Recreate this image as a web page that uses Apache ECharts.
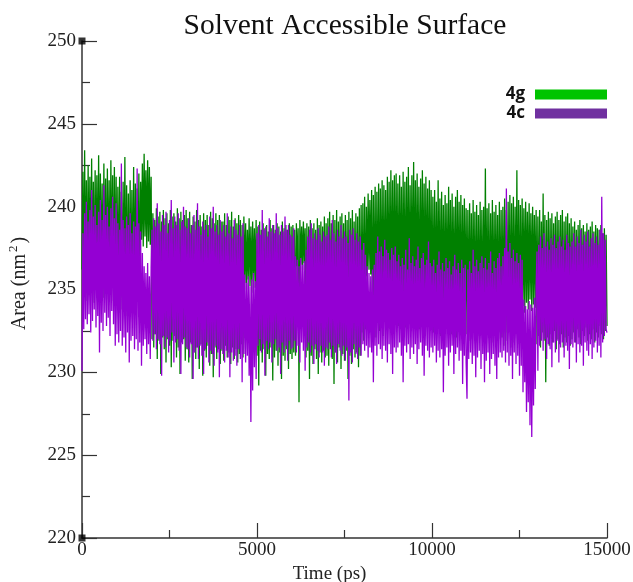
<!DOCTYPE html>
<html>
<head>
<meta charset="utf-8">
<script src="https://cdn.jsdelivr.net/npm/echarts@6/dist/echarts.min.js"></script>
<style>html,body{margin:0;padding:0;background:#fff}#c{width:633px;height:582px}</style>
</head>
<body>
<div id="c"></div>
<script>
const timeStep = 25; // ps between samples
const yTicks = [220, 225, 230, 235, 240, 245, 250];
const xTicks = [0, 5000, 10000, 15000];
const seriesNames = ['4g', '4c'];
const cornerMarks = [[0, 250], [0, 220]];

const area4g = [
236.2,242.1,234.6,243.4,235.1,241.6,234.3,242.5,235.4,241.8,234.8,242.9,235.0,241.5,234.2,242.2,235.6,241.9,234.7,243.1,
234.9,242.0,235.3,241.4,234.5,242.6,235.2,241.7,234.4,242.3,235.0,241.6,234.8,242.8,235.5,241.9,234.3,242.4,234.9,241.8,
234.2,241.2,233.6,241.8,234.5,240.9,233.8,241.5,234.0,243.0,233.4,241.3,234.3,240.8,233.7,241.6,234.1,241.0,233.5,242.4,
234.0,241.4,233.8,241.1,234.4,242.0,233.9,241.5,238.0,242.6,237.6,243.2,238.2,242.2,237.5,242.8,237.9,242.4,237.7,241.8,
232.0,239.6,231.5,239.2,232.3,239.9,230.8,239.4,231.9,239.7,229.9,239.1,232.1,239.8,231.4,239.3,230.6,239.6,232.0,239.0,
231.6,239.8,230.3,239.4,231.9,239.6,232.2,239.1,230.9,239.9,231.5,239.3,229.9,239.7,231.8,239.2,232.0,239.5,230.7,239.8,
231.4,239.3,230.6,239.7,231.8,238.9,229.6,239.4,231.2,239.1,230.8,239.8,231.5,239.2,230.2,239.5,231.7,238.8,229.8,239.6,
231.3,239.2,230.9,239.5,231.6,238.9,230.4,239.7,231.1,239.3,229.7,239.0,231.5,239.6,230.8,239.2,231.4,239.5,230.5,239.1,
231.3,239.1,230.7,239.6,231.6,238.9,230.9,239.4,231.2,239.2,230.5,239.7,231.5,238.8,230.8,239.3,231.4,239.0,230.6,239.5,
231.1,239.2,231.7,238.9,230.9,239.4,235.4,239.0,235.0,238.6,235.6,239.3,235.2,238.8,234.8,239.1,235.5,238.7,235.1,239.2,
231.0,238.8,229.2,239.1,231.3,238.6,230.6,239.0,231.4,238.7,229.8,238.9,231.1,238.5,230.8,239.2,231.5,238.7,229.5,238.9,
230.9,238.6,231.3,239.0,230.4,238.8,231.2,238.5,229.6,239.1,231.0,238.7,230.7,238.9,231.4,238.6,230.2,239.0,231.1,238.8,
230.8,238.9,231.2,238.6,231.0,239.0,236.4,238.7,228.2,239.2,236.5,238.8,236.2,239.1,236.6,238.7,230.9,239.0,231.3,238.8,
229.6,239.2,231.0,238.7,230.5,239.0,231.4,238.6,230.8,239.3,229.9,238.9,231.2,239.1,230.6,238.8,231.3,239.4,230.9,239.0,
231.0,239.3,230.4,239.7,231.4,239.0,230.8,239.5,229.3,239.2,231.2,239.8,230.6,239.1,231.5,239.4,230.2,239.6,231.1,239.0,
230.7,239.5,231.3,239.2,229.6,239.7,231.0,239.3,230.5,239.8,231.4,239.1,230.9,239.6,231.2,239.4,230.3,239.9,231.0,240.1,
232.4,240.2,231.9,240.6,232.6,240.0,235.8,240.8,236.2,240.4,235.9,241.0,232.3,240.7,232.8,241.2,232.1,240.9,233.0,241.4,
232.5,241.1,232.9,241.6,232.2,241.3,233.2,241.0,232.7,241.8,233.4,241.5,232.6,242.2,233.1,241.6,233.6,241.9,232.9,242.0,
233.2,241.4,232.8,241.9,233.6,241.2,233.0,242.1,233.9,241.5,232.7,241.8,233.4,242.4,233.1,241.3,233.7,241.9,232.9,242.7,
233.5,241.6,233.0,242.0,233.8,241.2,232.6,241.7,233.3,242.2,233.6,241.4,232.9,241.8,233.5,241.1,233.2,241.6,232.8,241.0,
232.8,240.6,232.4,241.0,233.1,240.3,232.6,241.6,233.3,240.5,232.2,240.9,233.0,240.1,232.7,240.7,233.4,240.2,232.5,241.2,
232.9,240.4,232.3,240.8,233.2,240.0,232.6,240.6,232.1,241.0,233.0,240.3,232.8,240.7,232.4,240.1,233.1,240.5,232.7,239.9,
232.3,239.8,231.9,240.2,232.6,239.6,232.0,240.4,232.8,239.7,231.8,240.1,232.5,239.5,232.2,240.3,232.7,239.8,232.0,240.0,
232.4,242.3,231.7,239.9,232.6,240.2,232.1,239.6,232.9,240.4,231.8,239.7,232.3,240.1,232.6,239.5,232.0,240.3,232.4,239.8,
232.1,240.0,231.6,240.5,232.4,239.8,231.9,240.3,232.6,240.7,231.5,240.2,232.2,240.6,231.8,240.0,232.5,242.2,231.7,240.4,
232.3,240.1,232.0,240.5,234.0,239.9,233.6,240.3,234.2,239.7,233.8,240.2,234.4,239.6,233.7,240.0,234.1,239.5,233.9,239.8,
231.7,239.4,232.2,239.8,231.5,239.1,232.4,240.8,231.9,239.5,229.4,239.2,232.1,239.7,231.6,239.3,232.3,239.6,231.8,239.0,
232.5,239.4,231.4,239.7,232.0,239.2,231.7,239.5,232.3,239.8,231.5,239.1,232.1,239.4,231.8,239.6,232.2,239.0,231.6,239.3,
232.0,238.8,232.4,239.1,231.8,238.6,232.6,238.9,232.1,239.2,231.7,238.7,232.5,238.9,232.2,238.5,232.7,239.0,231.9,238.6,
232.3,238.8,232.0,239.1,232.6,238.5,231.8,238.9,232.4,238.7,232.1,238.6,232.8,238.9,232.3,238.4,232.0,238.7,232.5,238.3,232.8
];

const area4c = [
230.1,238.4,232.6,239.6,233.2,240.3,232.9,239.1,233.5,239.8,232.4,241.0,233.1,239.4,233.8,240.1,232.7,238.9,233.4,239.7,
231.2,240.4,233.0,239.2,232.5,241.3,233.6,239.5,232.8,240.0,233.3,238.8,232.2,239.9,233.7,240.6,232.9,239.3,231.6,240.2,
232.3,239.0,231.8,238.6,232.5,242.6,231.6,239.2,232.1,238.7,231.2,239.4,232.4,238.9,230.6,239.6,231.9,238.4,232.2,239.1,
231.4,238.8,232.0,242.3,231.3,239.0,231.8,238.5,230.4,237.2,231.6,236.4,232.0,236.0,231.1,236.6,231.7,235.8,230.8,236.3,
238.6,231.9,239.3,232.3,238.8,231.4,240.2,232.0,239.0,231.7,238.5,229.8,239.5,232.2,238.9,231.5,239.7,232.1,238.4,231.2,
239.2,231.9,240.4,232.4,238.7,230.6,239.4,231.8,238.9,232.0,239.6,231.3,238.6,229.9,239.1,231.7,240.0,232.1,238.8,231.5,
238.7,231.4,239.3,230.9,238.4,231.7,238.9,229.6,239.5,231.2,238.6,231.5,240.2,230.8,238.8,231.6,238.3,231.0,239.1,229.9,
238.6,231.4,238.9,231.8,238.2,230.6,239.4,231.3,238.7,231.1,240.0,230.4,238.5,231.6,238.9,231.2,238.3,229.7,239.2,231.4,
238.5,231.1,238.9,230.6,238.2,231.3,239.6,230.9,238.4,229.7,238.8,231.2,238.1,230.7,239.2,231.0,238.6,230.4,238.3,231.4,
238.9,230.8,238.2,229.4,239.0,231.1,235.9,230.6,235.4,231.0,235.8,229.8,235.2,227.0,235.6,228.9,236.0,230.3,235.5,229.6,
238.4,231.6,238.9,232.0,238.3,231.2,239.8,231.7,238.6,229.8,238.8,231.9,238.2,231.4,239.3,231.8,238.5,230.6,238.9,231.7,
238.4,232.0,239.6,231.3,238.7,231.5,238.3,229.9,238.9,231.8,238.5,231.2,239.4,231.6,238.6,230.7,238.9,231.9,238.3,231.4,
238.2,231.5,238.7,231.9,237.0,231.2,236.8,231.6,236.4,230.6,236.9,231.8,236.5,231.3,236.7,230.1,237.4,231.5,238.2,231.8,
238.6,231.2,239.0,231.6,238.1,230.5,238.4,231.7,238.0,231.3,238.7,230.9,238.3,231.6,237.9,231.2,238.5,230.4,238.2,231.5,
238.3,231.4,238.8,231.8,238.0,230.9,239.2,231.6,238.4,231.2,237.9,230.5,238.6,231.7,238.2,231.3,238.9,231.0,238.1,231.6,
238.5,230.7,238.2,231.5,237.8,228.3,238.6,231.2,238.3,230.6,238.7,231.7,238.0,231.1,238.4,230.8,237.9,231.5,238.2,231.0,
237.4,231.7,237.8,231.3,237.1,231.6,236.4,230.9,236.0,231.5,235.8,231.2,236.2,229.4,236.5,231.6,237.2,231.0,238.2,231.7,
237.3,231.4,237.6,230.8,237.0,231.6,238.0,231.3,237.4,230.6,237.2,231.7,236.8,231.1,237.5,229.9,237.1,231.5,237.6,231.2,
236.7,231.5,237.1,231.8,236.4,231.0,236.9,229.4,236.5,231.6,237.4,231.2,236.2,231.7,238.1,230.8,236.6,231.5,237.0,231.1,
236.4,231.7,236.8,230.5,237.6,231.4,236.3,231.8,236.9,231.0,237.2,229.8,236.5,231.6,236.8,231.3,237.9,230.9,236.6,231.5,
236.4,231.2,236.8,231.6,236.0,230.6,236.5,231.3,237.3,230.9,236.2,231.4,236.6,228.8,236.1,231.0,236.9,231.5,236.3,230.4,
236.7,231.2,235.9,231.6,236.4,229.9,237.1,231.1,236.2,231.5,236.6,230.7,236.0,231.3,236.8,229.3,236.3,231.0,236.5,230.6,
228.4,236.2,230.8,236.7,231.2,236.0,230.5,237.4,231.0,236.4,229.7,236.8,230.9,236.1,231.3,236.6,230.2,237.0,231.1,236.3,
229.4,236.9,230.7,236.2,231.2,236.6,229.9,237.3,230.8,236.0,231.1,236.7,230.4,236.3,229.6,236.9,230.9,237.2,231.2,236.4,
230.9,237.0,231.3,237.5,230.6,241.1,231.2,237.3,230.4,237.8,231.0,236.9,229.6,237.4,231.2,236.7,230.5,237.2,231.0,236.6,
229.8,237.1,230.4,236.8,228.8,234.4,229.4,234.0,227.6,233.8,228.2,234.3,226.8,234.1,226.1,233.9,228.0,234.5,229.0,235.2,
237.3,230.1,237.7,231.6,238.2,231.9,237.5,231.3,238.4,232.0,237.6,230.8,237.9,231.7,237.4,231.4,238.1,230.3,237.7,231.8,
238.3,231.2,237.5,231.9,237.9,230.6,238.2,231.5,237.6,231.8,238.0,230.9,237.4,231.6,238.3,231.3,237.8,230.2,237.6,231.7,
237.9,231.5,238.4,231.8,237.6,230.6,238.2,231.7,237.8,231.2,238.6,231.6,237.7,230.4,238.3,231.8,237.9,231.3,238.5,231.0,
237.6,231.7,238.1,230.8,238.4,231.5,237.8,231.9,238.2,231.2,237.7,231.6,238.6,230.9,240.6,231.8,238.4,232.2,238.0,232.6,232.4
];

const toPairs = arr => arr.map((v, i) => [i * timeStep, v]);

const serif = '"Liberation Serif", "DejaVu Serif", serif';
const chart = echarts.init(document.getElementById('c'), null, {renderer: 'canvas'});
chart.setOption({
  animation: false,
  backgroundColor: '#ffffff',
  title: {
    text: 'Solvent Accessible Surface',
    left: 340, top: 6, textAlign: 'center',
    textStyle: {fontFamily: serif, fontSize: 29.5, fontWeight: 'normal', color: '#111'}
  },
  legend: {
    data: [
      {name: seriesNames[0], itemStyle: {color: '#00c400'}},
      {name: seriesNames[1], itemStyle: {color: '#7030a0'}}
    ],
    orient: 'vertical', right: 26, top: 85, align: 'right', padding: 0,
    icon: 'rect', itemWidth: 72, itemHeight: 10, itemGap: 0,
    textStyle: {fontFamily: '"Open Sans", "Liberation Sans", sans-serif', fontWeight: 'bold', fontSize: 17,
      lineHeight: 19, color: '#111', padding: [0, 5, 0, 0]}
  },
  grid: {left: 82, right: 26, top: 41, bottom: 44, containLabel: false, outerBoundsMode: 'none'},
  xAxis: {
    type: 'value', min: xTicks[0], max: xTicks[xTicks.length - 1], interval: 5000,
    name: 'Time (ps)', nameLocation: 'middle', nameGap: 26,
    nameTextStyle: {fontFamily: serif, fontSize: 19, color: '#222', padding: [0, 30, 0, 0]},
    axisLine: {onZero: false, lineStyle: {color: '#333', width: 1.5}},
    axisTick: {inside: true, length: 15, lineStyle: {color: '#333', width: 1.2}},
    minorTick: {show: true, splitNumber: 2, length: 8, lineStyle: {color: '#333', width: 1.2}},
    axisLabel: {fontFamily: serif, fontSize: 19, color: '#222', margin: 3, formatter: v => String(v)},
    splitLine: {show: false}
  },
  yAxis: {
    type: 'value', min: yTicks[0], max: yTicks[yTicks.length - 1], interval: 5,
    name: '{a|Area (nm}{s|2}{a|)}', nameLocation: 'middle', nameGap: 50, nameRotate: 90,
    nameTextStyle: {
      fontFamily: serif, fontSize: 20, color: '#222', padding: [0, 0, 0, 12],
      rich: {
        a: {fontFamily: serif, fontSize: 20, color: '#222'},
        s: {fontFamily: serif, fontSize: 13, color: '#222', padding: [0, 2, 12, 2]}
      }
    },
    axisLine: {onZero: false, lineStyle: {color: '#333', width: 1.5}},
    axisTick: {inside: true, length: 15, lineStyle: {color: '#333', width: 1.2}},
    minorTick: {show: true, splitNumber: 2, length: 8, lineStyle: {color: '#333', width: 1.2}},
    axisLabel: {fontFamily: serif, fontSize: 19, color: '#222', margin: 6, formatter: v => String(v)},
    splitLine: {show: false}
  },
  series: [
    {
      name: seriesNames[0], type: 'line', data: toPairs(area4g),
      showSymbol: false, symbol: 'none', sampling: null,
      lineStyle: {color: '#008000', width: 1.3}, itemStyle: {color: '#008000'}, z: 2
    },
    {
      name: seriesNames[1], type: 'line', data: toPairs(area4c),
      showSymbol: false, symbol: 'none', sampling: null,
      lineStyle: {color: '#9400d3', width: 1.3}, itemStyle: {color: '#9400d3'}, z: 3
    },
    {
      name: 'corners', type: 'scatter', data: cornerMarks, symbol: 'rect', symbolSize: 7,
      itemStyle: {color: '#000'}, silent: true, z: 5
    }
  ]
});
</script>
</body>
</html>
